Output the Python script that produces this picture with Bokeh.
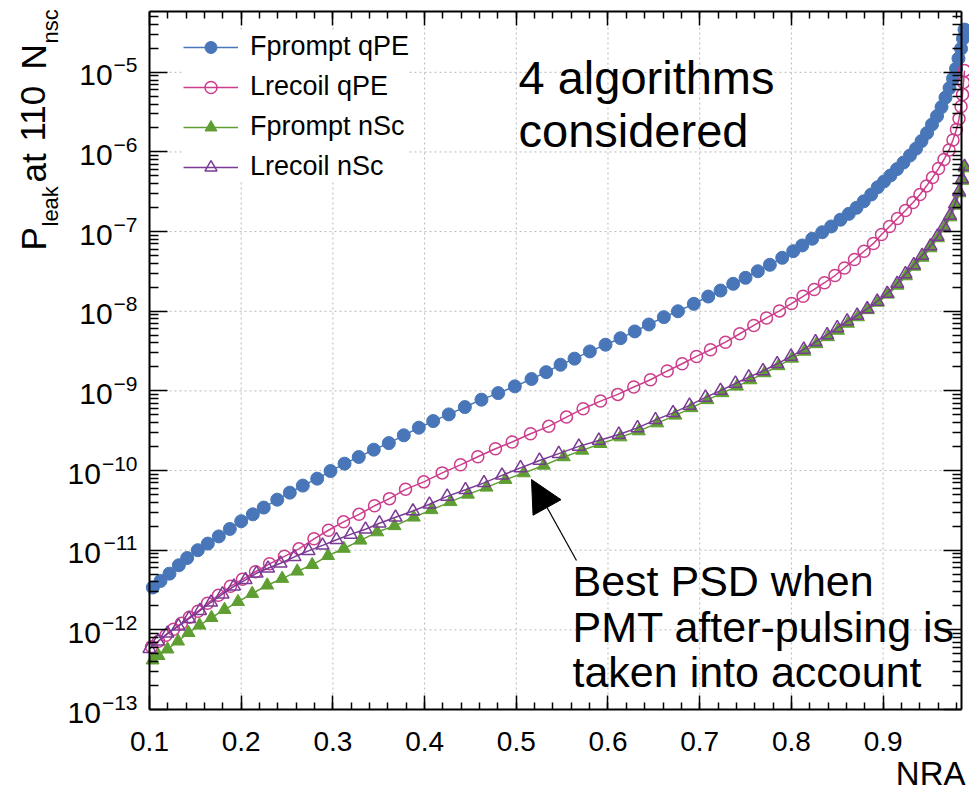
import math
from bokeh.plotting import figure
from bokeh.models import (Range1d, FixedTicker, LinearAxis, LogAxis, Label,
                          Legend, LegendItem, Arrow, NormalHead, CustomJSTickFormatter)
from bokeh.embed import file_html
from bokeh.resources import INLINE

FONT = "Liberation Sans"

# ---------------- data ----------------
nra_fprompt_qpe = [0.1036, 0.112, 0.1218, 0.132, 0.1411, 0.1527, 0.1636, 0.1756, 0.1876, 0.2,
                   0.2127, 0.2246, 0.2393, 0.253, 0.2672, 0.2829, 0.2974, 0.3127, 0.3282, 0.3446,
                   0.361, 0.3773, 0.3937, 0.4094, 0.4264, 0.4439, 0.462, 0.4803, 0.4984, 0.5166,
                   0.5326, 0.5482, 0.5635, 0.5802, 0.5973, 0.6136, 0.6292, 0.6445, 0.6609, 0.6763,
                   0.6936, 0.7093, 0.7227, 0.7365, 0.75, 0.7634, 0.7765, 0.79, 0.802, 0.8118,
                   0.8227, 0.8336, 0.8434, 0.8535, 0.8626, 0.871, 0.8789, 0.887, 0.8942, 0.901,
                   0.908, 0.9152, 0.9222, 0.9293, 0.9359, 0.9419, 0.9479, 0.9533, 0.9588, 0.9637,
                   0.968, 0.9724, 0.9762, 0.9795, 0.9822, 0.985, 0.9871, 0.9888]
pleak_fprompt_qpe = [3.40e-12, 4.11e-12, 5.08e-12, 6.47e-12, 7.98e-12, 1.00e-11, 1.21e-11, 1.49e-11, 1.85e-11, 2.31e-11,
                     2.82e-11, 3.43e-11, 4.31e-11, 5.28e-11, 6.47e-11, 7.91e-11, 9.86e-11, 1.22e-10, 1.48e-10, 1.83e-10,
                     2.21e-10, 2.77e-10, 3.45e-10, 4.18e-10, 5.07e-10, 6.27e-10, 7.76e-10, 9.38e-10, 1.14e-9, 1.41e-9,
                     1.72e-9, 2.13e-9, 2.54e-9, 3.13e-9, 3.80e-9, 4.59e-9, 5.58e-9, 6.82e-9, 8.43e-9, 1.00e-8,
                     1.24e-8, 1.53e-8, 1.82e-8, 2.21e-8, 2.63e-8, 3.18e-8, 3.83e-8, 4.69e-8, 5.68e-8, 6.70e-8,
                     8.13e-8, 9.82e-8, 1.16e-7, 1.41e-7, 1.67e-7, 1.99e-7, 2.40e-7, 2.92e-7, 3.61e-7, 4.26e-7,
                     5.06e-7, 6.10e-7, 7.36e-7, 9.02e-7, 1.10e-6, 1.37e-6, 1.73e-6, 2.21e-6, 2.82e-6, 3.66e-6,
                     4.82e-6, 6.34e-6, 8.34e-6, 1.11e-5, 1.49e-5, 1.98e-5, 2.65e-5, 3.44e-5]

nra_lrecoil_qpe = [0.1022, 0.1098, 0.118, 0.1262, 0.1349, 0.1436, 0.1529, 0.1633, 0.1752, 0.1883,
                   0.2014, 0.2156, 0.2309, 0.2472, 0.263, 0.2794, 0.2952, 0.3116, 0.3285, 0.3454,
                   0.3617, 0.3792, 0.3991, 0.4192, 0.4392, 0.458, 0.4773, 0.4955, 0.5155, 0.5354,
                   0.5547, 0.5729, 0.5918, 0.6107, 0.6281, 0.6463, 0.6646, 0.6809, 0.6965, 0.7118,
                   0.7281, 0.7437, 0.759, 0.7729, 0.787, 0.8001, 0.8127, 0.8249, 0.8361, 0.8475,
                   0.8579, 0.8688, 0.8792, 0.8895, 0.8983, 0.907, 0.9157, 0.9244, 0.9326, 0.9402,
                   0.9473, 0.9539, 0.9604, 0.9664, 0.9719, 0.9762, 0.98, 0.9828, 0.985, 0.9866,
                   0.9877, 0.9888]
pleak_lrecoil_qpe = [6.14e-13, 7.19e-13, 8.55e-13, 1.02e-12, 1.21e-12, 1.44e-12, 1.71e-12, 2.16e-12, 2.72e-12, 3.52e-12,
                     4.31e-12, 5.36e-12, 6.75e-12, 8.38e-12, 1.04e-11, 1.39e-11, 1.78e-11, 2.27e-11, 2.82e-11, 3.61e-11,
                     4.44e-11, 5.81e-11, 7.21e-11, 9.35e-11, 1.18e-10, 1.49e-10, 1.88e-10, 2.28e-10, 2.90e-10, 3.59e-10,
                     4.69e-10, 5.98e-10, 7.45e-10, 9.04e-10, 1.12e-9, 1.38e-9, 1.78e-9, 2.19e-9, 2.71e-9, 3.29e-9,
                     4.09e-9, 5.22e-9, 6.63e-9, 8.24e-9, 1.01e-8, 1.25e-8, 1.54e-8, 1.88e-8, 2.28e-8, 2.81e-8,
                     3.49e-8, 4.47e-8, 5.66e-8, 7.10e-8, 9.20e-8, 1.16e-7, 1.46e-7, 1.84e-7, 2.32e-7, 2.92e-7,
                     3.73e-7, 4.77e-7, 6.19e-7, 8.04e-7, 1.06e-6, 1.41e-6, 1.91e-6, 2.62e-6, 3.72e-6, 5.25e-6,
                     7.43e-6, 1.05e-5]

nra_fprompt_nsc = [0.1033, 0.1098, 0.1196, 0.1311, 0.1425, 0.1545, 0.1676, 0.1818, 0.1965, 0.212,
                   0.2284, 0.2447, 0.2611, 0.2774, 0.2947, 0.3119, 0.3301, 0.3483, 0.3672, 0.3882,
                   0.4075, 0.4282, 0.4473, 0.4675, 0.4882, 0.5082, 0.53, 0.5518, 0.5719, 0.5918,
                   0.6136, 0.6336, 0.6537, 0.6736, 0.6911, 0.7085, 0.7249, 0.7407, 0.7554, 0.7708,
                   0.786, 0.8007, 0.8143, 0.8274, 0.8399, 0.8508, 0.8617, 0.8726, 0.8835, 0.8944,
                   0.9053, 0.9157, 0.925, 0.9342, 0.943, 0.9517, 0.9599, 0.9669, 0.9735, 0.9789,
                   0.9833, 0.9866, 0.9893]
pleak_fprompt_nsc = [4.16e-13, 4.73e-13, 5.71e-13, 7.19e-13, 9.20e-13, 1.14e-12, 1.42e-12, 1.79e-12, 2.25e-12, 2.85e-12,
                     3.63e-12, 4.40e-12, 5.43e-12, 6.56e-12, 8.51e-12, 1.05e-11, 1.33e-11, 1.69e-11, 2.02e-11, 2.59e-11,
                     3.21e-11, 4.05e-11, 5.02e-11, 6.15e-11, 7.69e-11, 9.31e-11, 1.16e-10, 1.48e-10, 1.79e-10, 2.17e-10,
                     2.63e-10, 3.13e-10, 3.94e-10, 4.93e-10, 6.12e-10, 7.71e-10, 9.44e-10, 1.14e-9, 1.37e-9, 1.68e-9,
                     2.06e-9, 2.56e-9, 3.13e-9, 3.89e-9, 4.76e-9, 5.74e-9, 7.03e-9, 8.47e-9, 1.04e-8, 1.29e-8,
                     1.63e-8, 2.11e-8, 2.77e-8, 3.65e-8, 4.73e-8, 6.22e-8, 8.32e-8, 1.11e-7, 1.52e-7, 2.13e-7,
                     3.05e-7, 4.38e-7, 6.28e-7]

nra_lrecoil_nsc = [0.1, 0.1093, 0.1196, 0.1316, 0.1431, 0.1551, 0.1671, 0.1796, 0.1921, 0.2047,
                   0.2167, 0.2292, 0.2429, 0.2581, 0.2734, 0.2887, 0.3039, 0.3192, 0.3356, 0.3508,
                   0.3683, 0.3873, 0.4053, 0.4246, 0.4446, 0.4648, 0.4844, 0.5046, 0.5253, 0.5463,
                   0.5682, 0.59, 0.6118, 0.6322, 0.6518, 0.6709, 0.6889, 0.7063, 0.7227, 0.739,
                   0.7535, 0.769, 0.7845, 0.7996, 0.8135, 0.8263, 0.839, 0.85, 0.8608, 0.8717,
                   0.8827, 0.8936, 0.9045, 0.9154, 0.9244, 0.9335, 0.9426, 0.9517, 0.9593, 0.9664,
                   0.973, 0.9784, 0.9828, 0.9861, 0.9888]
pleak_lrecoil_nsc = [5.8e-13, 7.19e-13, 9.06e-13, 1.11e-12, 1.38e-12, 1.74e-12, 2.22e-12, 2.80e-12, 3.52e-12, 4.25e-12,
                     5.13e-12, 5.93e-12, 6.85e-12, 8.26e-12, 9.82e-12, 1.15e-11, 1.35e-11, 1.58e-11, 1.83e-11, 2.18e-11,
                     2.59e-11, 3.10e-11, 3.77e-11, 4.74e-11, 5.73e-11, 7.01e-11, 8.71e-11, 1.08e-10, 1.34e-10, 1.63e-10,
                     2.01e-10, 2.39e-10, 2.84e-10, 3.43e-10, 4.33e-10, 5.30e-10, 6.58e-10, 8.28e-10, 1.01e-9, 1.24e-9,
                     1.49e-9, 1.78e-9, 2.19e-9, 2.71e-9, 3.32e-9, 4.14e-9, 5.05e-9, 6.17e-9, 7.50e-9, 8.85e-9,
                     1.07e-8, 1.33e-8, 1.67e-8, 2.23e-8, 2.94e-8, 3.81e-8, 5.01e-8, 6.59e-8, 8.69e-8, 1.16e-7,
                     1.59e-7, 2.22e-7, 3.18e-7, 4.57e-7, 6.56e-7]

series_names = ["Fprompt qPE", "Lrecoil qPE", "Fprompt nSc", "Lrecoil nSc"]

x_ticks = [0.1, 0.2, 0.3, 0.4, 0.5, 0.6, 0.7, 0.8, 0.9]
x_tick_labels = ["0.1", "0.2", "0.3", "0.4", "0.5", "0.6", "0.7", "0.8", "0.9"]
y_exponents = [-13, -12, -11, -10, -9, -8, -7, -6, -5]

x_title = "NRA"
annotation_1 = ["4 algorithms", "considered"]
annotation_2 = ["Best PSD when", "PMT after-pulsing is", "taken into account"]

# ---------------- layout ----------------
# The Bokeh frame fills the whole canvas; the visible axes box is drawn with
# fixed-location axes so that texts around it are not clipped.
W, H = 969, 794
BOX_L, BOX_R, BOX_T, BOX_B = 149, 961, 11, 709     # axes box in canvas pixels
X_LO, X_HI = 0.1, 0.9855
Y_LO, Y_HI = 1e-13, 5.8e-5

kx = (X_HI - X_LO) / (BOX_R - BOX_L)
x_start = X_LO - BOX_L * kx
x_end = X_HI + (W - BOX_R) * kx
ky = (math.log10(Y_HI) - math.log10(Y_LO)) / (BOX_B - BOX_T)
y_start = 10 ** (math.log10(Y_LO) - (H - BOX_B) * ky)
y_end = 10 ** (math.log10(Y_HI) + BOX_T * ky)


def sx(px):
    return px


def sy(py):
    return H - py


BLUE = "#4876b8"
MAGENTA = "#cc3d8c"
GREEN = "#5f9e32"
PURPLE = "#7a3a95"

p = figure(width=W, height=H, y_axis_type="log",
           x_range=Range1d(x_start, x_end), y_range=Range1d(y_start, y_end),
           output_backend="svg", toolbar_location=None, min_border=0)
p.background_fill_color = "white"
p.border_fill_color = "white"
p.outline_line_color = None
p.xgrid.visible = False
p.ygrid.visible = False

x_minor = [round(0.1 + 0.02 * i, 2) for i in range(1, 45)]
y_major = [10.0 ** e for e in y_exponents]
y_minor = [k * 10.0 ** e for e in range(-14, -4) for k in range(2, 10)
           if Y_LO < k * 10.0 ** e < Y_HI]


def x_ticker():
    return FixedTicker(ticks=x_ticks, minor_ticks=x_minor)


def y_ticker():
    return FixedTicker(ticks=y_major, minor_ticks=y_minor)


def style_axis(ax, major_len, minor_len, show_labels=False):
    ax.axis_line_width = 2
    ax.axis_line_color = "black"
    ax.major_tick_in = major_len
    ax.major_tick_out = 0
    ax.minor_tick_in = minor_len
    ax.minor_tick_out = 0
    ax.major_tick_line_width = 1.5
    ax.minor_tick_line_width = 1.5
    ax.major_tick_line_color = "black"
    ax.minor_tick_line_color = "black"
    if not show_labels:
        ax.formatter = CustomJSTickFormatter(code="return ''")
        ax.major_label_text_font_size = "1px"
        ax.major_label_standoff = 0


xa = p.xaxis[0]
xa.ticker = x_ticker()
xa.fixed_location = Y_LO
xa.bounds = (X_LO, X_HI)
xa.major_label_overrides = {t: lab for t, lab in zip(x_ticks, x_tick_labels)}
style_axis(xa, 14, 7, show_labels=True)
xa.major_label_text_font = FONT
xa.major_label_text_font_size = "28px"
xa.major_label_text_color = "black"
xa.major_label_standoff = 22

ya = p.yaxis[0]
ya.ticker = y_ticker()
ya.fixed_location = X_LO
ya.bounds = (Y_LO, Y_HI)
style_axis(ya, 18, 9)

top = LinearAxis(ticker=x_ticker(), fixed_location=Y_HI, bounds=(X_LO, X_HI))
style_axis(top, 14, 7)
p.add_layout(top, "above")
right = LogAxis(ticker=y_ticker(), fixed_location=X_HI, bounds=(Y_LO, Y_HI))
style_axis(right, 18, 9)
p.add_layout(right, "right")

# dotted grid at the major ticks, limited to the axes box
GRID = dict(line_color="#b8b8b8", line_dash="2 3", line_width=1)
p.segment(x0=x_ticks[1:], y0=[Y_LO] * (len(x_ticks) - 1),
          x1=x_ticks[1:], y1=[Y_HI] * (len(x_ticks) - 1), **GRID)
p.segment(x0=[X_LO] * (len(y_major) - 1), y0=y_major[1:],
          x1=[X_HI] * (len(y_major) - 1), y1=y_major[1:], **GRID)

# ---------------- series ----------------
l1 = p.line(nra_fprompt_qpe, pleak_fprompt_qpe, line_color=BLUE, line_width=1.5)
s1 = p.scatter(nra_fprompt_qpe, pleak_fprompt_qpe, marker="circle", size=13,
               fill_color=BLUE, line_color=BLUE)
l2 = p.line(nra_lrecoil_qpe, pleak_lrecoil_qpe, line_color=MAGENTA, line_width=1.5)
s2 = p.scatter(nra_lrecoil_qpe, pleak_lrecoil_qpe, marker="circle", size=12,
               fill_color=None, line_color=MAGENTA, line_width=1.5)
l3 = p.line(nra_fprompt_nsc, pleak_fprompt_nsc, line_color=GREEN, line_width=1.5)
s3 = p.scatter(nra_fprompt_nsc, pleak_fprompt_nsc, marker="triangle", size=13,
               fill_color=GREEN, line_color=GREEN)
l4 = p.line(nra_lrecoil_nsc, pleak_lrecoil_nsc, line_color=PURPLE, line_width=1.5)
s4 = p.scatter(nra_lrecoil_nsc, pleak_lrecoil_nsc, marker="triangle", size=13,
               fill_color=None, line_color=PURPLE, line_width=1.5)

legend = Legend(items=[LegendItem(label=series_names[0], renderers=[l1, s1]),
                       LegendItem(label=series_names[1], renderers=[l2, s2]),
                       LegendItem(label=series_names[2], renderers=[l3, s3]),
                       LegendItem(label=series_names[3], renderers=[l4, s4])],
                location=(183, 612), orientation="vertical",
                glyph_width=55, glyph_height=30, label_height=30, spacing=9,
                padding=8, margin=0, label_standoff=12,
                label_text_font=FONT, label_text_font_size="27px",
                label_text_color="black",
                border_line_color=None, background_fill_color="white",
                background_fill_alpha=1.0)
p.add_layout(legend)


# ---------------- texts ----------------
def add_text(text, px, py, size, align="left", angle=0.0):
    p.add_layout(Label(x=sx(px), y=sy(py), x_units="screen", y_units="screen",
                       text=text, text_font=FONT, text_font_size=f"{size}px",
                       text_align=align, text_baseline="middle", angle=angle,
                       text_color="black"))


# y tick labels 10^e
EXP_FS = 21
for e in y_exponents:
    digits = str(abs(e))
    exp_w = (0.584 + 0.556 * len(digits)) * EXP_FS
    p.add_layout(Label(x=sx(137), y=10.0 ** e, x_units="screen", y_units="data",
                       text="\u2212" + digits, text_font=FONT, text_font_size=f"{EXP_FS}px",
                       text_align="right", text_baseline="middle", y_offset=7,
                       text_color="black"))
    p.add_layout(Label(x=sx(137 - exp_w - 1), y=10.0 ** e, x_units="screen", y_units="data",
                       text="10", text_font=FONT, text_font_size="30px",
                       text_align="right", text_baseline="middle", y_offset=-3,
                       text_color="black"))

# axis titles: P_leak at 110 N_nsc (rotated, read bottom to top)
add_text(x_title, 965, 773, 33, align="right")
ang = math.pi / 2
add_text("P", 32.5, 250, 35, angle=ang)
add_text("leak", 50, 226, 22, angle=ang)
add_text("at", 32.5, 182, 35, angle=ang)
add_text("110", 32.5, 141, 35, angle=ang)
add_text("N", 32.5, 69, 35, angle=ang)
add_text("nsc", 50, 43, 22, angle=ang)

# annotations
add_text(annotation_1[0], 518, 77, 47)
add_text(annotation_1[1], 518, 130, 47)
add_text(annotation_2[0], 572, 580, 43)
add_text(annotation_2[1], 572, 626, 43)
add_text(annotation_2[2], 572, 671, 43)

p.add_layout(Arrow(end=NormalHead(size=32, fill_color="black", line_color="black", line_width=1),
                   x_start=sx(576), y_start=sy(560), x_end=sx(531), y_end=sy(479),
                   start_units="screen", end_units="screen",
                   line_color="black", line_width=1.2))

open("out.html", "w").write(file_html(p, INLINE))
